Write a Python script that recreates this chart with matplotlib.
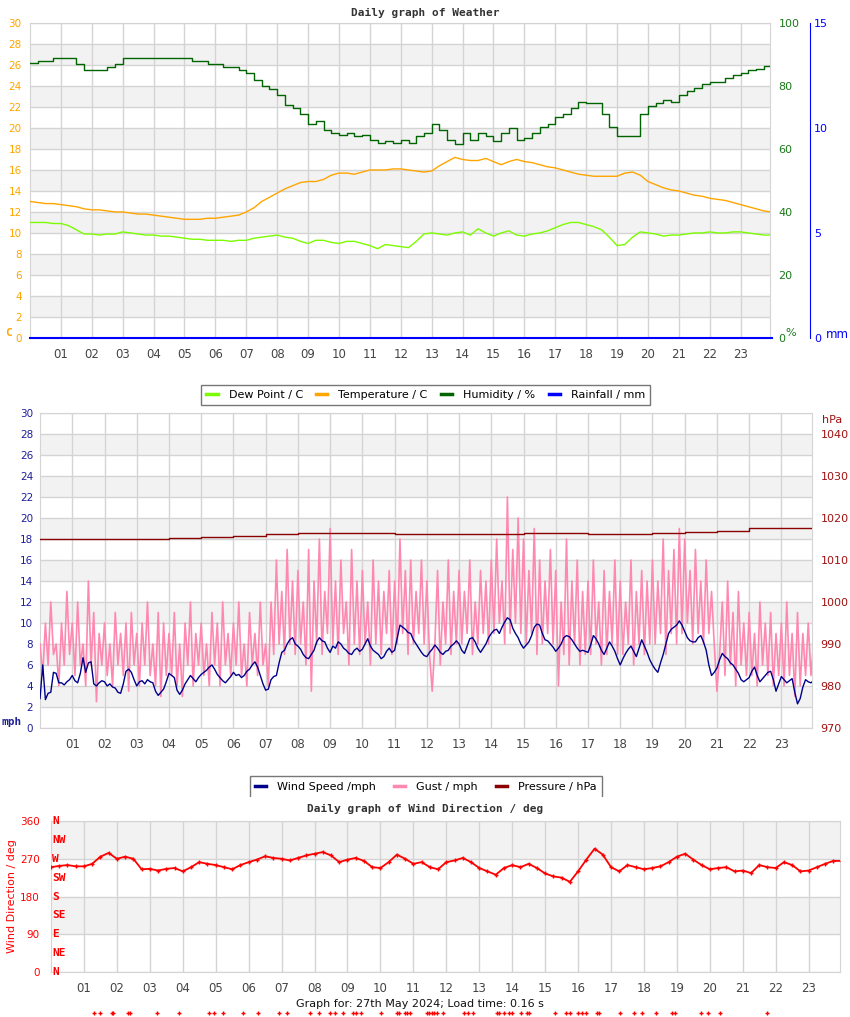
import numpy as np
import matplotlib
matplotlib.use("Agg")
import matplotlib.pyplot as plt
from matplotlib.lines import Line2D
from matplotlib.patches import Rectangle
from matplotlib.transforms import blended_transform_factory

# ---- data ----
hour_labels = ["%02d" % h for h in range(1, 24)]

# quarter-hour samples 00:00 .. 24:00
humidity = [87.3, 88, 88, 88.8,  88.8, 88.8, 87, 85,  85, 85, 86, 87,  88.8, 88.8, 88.8, 88.8,
            88.8, 88.8, 88.8, 88.8,  88.8, 88, 88, 87,  87, 86, 86, 85,  84, 82, 80, 79,
            77, 74, 73, 71,  68, 69, 66, 65,  64.5, 65, 64, 64.5,  63, 62, 62.5, 62,
            63, 62, 64, 65,  68, 66, 63, 61.5,  65, 63, 65, 64,  62.5, 65, 66.5, 63,
            63.5, 65, 67, 68,  70, 71, 73, 75,  74.5, 74.5, 71, 67,  64, 64, 64, 71,
            73.5, 74.5, 75.5, 75,  77, 78.5, 79.5, 80.5,  81.3, 81.3, 82.5, 83.5,  84, 85, 85.5, 86.2,
            86.2]
temperature = [13.0, 12.9, 12.8, 12.8,  12.7, 12.6, 12.5, 12.3,  12.2, 12.2, 12.1, 12.0,  12.0, 11.9, 11.8, 11.8,
               11.7, 11.6, 11.5, 11.4,  11.3, 11.3, 11.3, 11.4,  11.4, 11.5, 11.6, 11.7,  12.0, 12.4, 13.0, 13.4,
               13.8, 14.2, 14.5, 14.8,  14.9, 14.9, 15.1, 15.5,  15.7, 15.7, 15.6, 15.8,  16.0, 16.0, 16.0, 16.1,
               16.1, 16.0, 15.9, 15.8,  15.9, 16.4, 16.8, 17.2,  17.0, 16.9, 16.9, 17.1,  16.8, 16.5, 16.8, 17.0,
               16.8, 16.7, 16.5, 16.3,  16.2, 16.0, 15.8, 15.6,  15.5, 15.4, 15.4, 15.4,  15.4, 15.7, 15.8, 15.5,
               14.9, 14.6, 14.3, 14.1,  14.0, 13.8, 13.6, 13.5,  13.3, 13.2, 13.1, 12.9,  12.7, 12.5, 12.3, 12.1,
               12.0]
dew_point = [11.0, 11.0, 11.0, 10.9,  10.9, 10.7, 10.3, 9.9,  9.9, 9.8, 9.9, 9.9,  10.1, 10.0, 9.9, 9.8,
             9.8, 9.7, 9.7, 9.6,  9.5, 9.4, 9.4, 9.3,  9.3, 9.3, 9.2, 9.3,  9.3, 9.5, 9.6, 9.7,
             9.8, 9.6, 9.5, 9.2,  9.0, 9.3, 9.3, 9.1,  9.0, 9.2, 9.2, 9.0,  8.8, 8.5, 8.9, 8.8,
             8.7, 8.6, 9.2, 9.9,  10.0, 9.9, 9.8, 10.0,  10.1, 9.8, 10.4, 10.0,  9.7, 10.0, 10.2, 9.8,
             9.7, 9.9, 10.0, 10.2,  10.5, 10.8, 11.0, 11.0,  10.8, 10.6, 10.3, 9.6,  8.8, 8.9, 9.6, 10.1,
             10.0, 9.9, 9.7, 9.8,  9.8, 9.9, 10.0, 10.0,  10.1, 10.0, 10.0, 10.1,  10.1, 10.0, 9.9, 9.8,
             9.8]
rainfall = [0.0] * len(humidity)

wind_dir = [250, 253, 255, 252,  252, 258, 275, 284,  270, 275, 270, 245,  246, 242, 246, 248,
            240, 250, 262, 258,  255, 250, 245, 255,  262, 268, 276, 272,  270, 266, 272, 278,
            282, 286, 278, 262,  268, 272, 265, 250,  248, 262, 280, 270,  258, 262, 250, 245,
            262, 266, 272, 262,  248, 240, 232, 248,  255, 250, 258, 248,  235, 228, 225, 215,
            240, 268, 294, 280,  250, 240, 255, 250,  245, 248, 252, 262,  275, 282, 268, 255,
            245, 248, 250, 240,  242, 236, 255, 250,  248, 262, 255, 240,  242, 250, 258, 265,
            265]

# hourly pressure 00..24
pressure = [1015.0, 1015.0, 1015.0, 1014.9, 1015.3, 1015.4, 1015.6, 1016.3, 1016.5, 1016.5,
            1016.4, 1016.3, 1016.3, 1016.2, 1016.2, 1016.4, 1016.4, 1016.3, 1016.3, 1016.5,
            1016.6, 1017.0, 1017.6, 1017.7, 1017.7]

# 5-minute wind speed
wind_speed = [2.8, 6.0, 2.7, 3.3, 3.4, 5.3, 5.2, 4.3, 4.3, 4.1, 4.4, 4.6,
              5.0, 4.5, 4.3, 5.2, 6.7, 5.3, 6.2, 6.3, 4.2, 4.0, 4.3, 4.5,
              4.4, 4.0, 4.2, 3.9, 3.8, 3.4, 3.3, 4.2, 5.4, 5.6, 5.3, 4.6,
              4.0, 4.4, 4.5, 4.2, 4.6, 4.4, 4.3, 3.5, 3.1, 3.4, 3.7, 4.4,
              5.2, 5.0, 4.8, 3.6, 3.2, 3.6, 4.2, 4.6, 5.0, 4.7, 4.4, 4.8,
              5.1, 5.3, 5.5, 5.8, 6.0, 5.6, 5.1, 4.8, 4.5, 4.3, 4.6, 4.9,
              5.3, 5.0, 5.1, 4.8, 5.0, 5.4, 5.6, 6.0, 6.3, 5.8, 5.0, 4.2,
              3.6, 3.7, 4.6, 4.9, 5.0, 6.2, 7.2, 7.4, 8.0, 8.4, 8.6, 8.0,
              7.8, 7.5, 7.0, 6.7, 6.6, 7.0, 7.4, 8.2, 8.6, 8.3, 8.2, 7.6,
              7.2, 7.8, 7.6, 8.2, 8.0, 7.6, 7.4, 7.1, 7.0, 7.4, 7.6, 7.3,
              7.5, 8.0, 8.5, 7.8, 7.4, 7.2, 7.0, 6.6, 6.8, 7.3, 7.6, 7.2,
              7.4, 8.6, 9.8, 9.6, 9.4, 9.1, 9.0, 8.4, 8.0, 7.6, 7.2, 6.9,
              6.8, 7.2, 7.5, 7.9, 7.6, 7.2, 7.0, 7.3, 7.4, 7.8, 8.0, 8.3,
              8.0, 7.4, 7.1, 7.8, 8.5, 8.6, 8.2, 7.6, 7.2, 7.6, 8.0, 8.6,
              9.0, 9.3, 9.4, 9.0, 9.6, 10.1, 10.5, 10.3, 9.5, 9.0, 8.6, 8.0,
              7.6, 7.9, 8.2, 8.8, 9.6, 9.9, 9.8, 9.0, 8.4, 8.3, 8.0, 7.7,
              7.3, 7.6, 8.0, 8.6, 8.8, 8.7, 8.4, 8.0, 7.6, 7.3, 7.4, 7.3,
              7.2, 7.9, 8.8, 8.5, 8.0, 7.4, 7.0, 7.6, 8.2, 7.8, 7.3, 6.6,
              6.0, 6.6, 7.1, 7.5, 7.8, 7.3, 6.8, 7.6, 8.4, 7.8, 7.2, 6.5,
              6.0, 5.6, 5.3, 6.2, 7.0, 8.0, 9.0, 9.4, 9.6, 9.8, 10.2, 9.8,
              9.2, 8.6, 8.3, 8.2, 8.2, 8.6, 8.8, 8.2, 7.4, 6.0, 5.0, 5.3,
              5.7, 6.5, 7.1, 6.8, 6.6, 6.2, 6.0, 5.6, 5.2, 4.6, 4.4, 4.6,
              4.8, 5.4, 5.8, 5.0, 4.4, 4.7, 5.0, 5.3, 5.4, 4.6, 3.5, 4.2,
              4.9, 4.6, 4.3, 4.5, 4.7, 3.4, 2.3, 2.8, 3.9, 4.6, 4.4, 4.3,
              4.5]

# 5-minute gusts
gust = [8, 5, 10, 6, 12, 7, 8, 4, 10, 6, 13, 7,
        10, 5, 12, 6, 8, 4, 14, 6, 11, 2.5, 9, 6,
        10, 5, 8, 4, 11, 6, 9, 5, 10, 3.5, 11, 6,
        9, 4, 10, 6, 12, 5, 8, 4, 11, 3, 10, 5,
        9, 5, 11, 4, 8, 3, 10, 6, 12, 4, 9, 6,
        10, 5, 8, 4, 11, 6, 10, 4, 12, 6, 9, 5,
        10, 6, 12, 5, 8, 4, 11, 6, 9, 5, 12, 6,
        8, 4, 12, 7, 16, 8, 13, 7, 17, 8, 14, 7,
        15, 8, 12, 6, 17, 3.5, 14, 8, 18, 7, 13, 9,
        19, 8, 14, 7, 16, 9, 12, 6, 17, 8, 14, 7,
        15, 8, 12, 6, 16, 8, 14, 7, 13, 9, 15, 7,
        14, 8, 18, 9, 15, 7, 16, 8, 13, 9, 16, 8,
        14, 7, 3.5, 8, 15, 6, 12, 8, 16, 7, 13, 8,
        15, 8, 13, 9, 16, 7, 12, 8, 15, 9, 14, 8,
        16, 9, 18, 10, 14, 8, 22, 9, 17, 10, 20, 9,
        18, 8, 15, 9, 19, 7, 16, 8, 14, 9, 17, 8,
        15, 4, 12, 7, 18, 6, 14, 8, 16, 6, 13, 7,
        14, 7, 16, 8, 12, 6, 15, 7, 13, 8, 16, 7,
        14, 7, 12, 8, 16, 6, 13, 8, 15, 7, 14, 8,
        16, 8, 14, 9, 18, 7, 15, 9, 17, 8, 19, 9,
        18, 10, 15, 8, 17, 9, 14, 8, 16, 9, 13, 8,
        3.5, 7, 12, 5, 14, 6, 11, 4, 13, 6, 10, 5,
        11, 5, 9, 4, 12, 6, 10, 5, 11, 4, 9, 5,
        10, 4, 12, 5, 9, 3, 11, 4, 9, 5, 10, 5,
        8]

# stray wind-direction points drawn under the footer
stray_hours = [1.31, 1.49, 1.85, 1.88, 2.34, 2.40, 3.22, 3.88, 4.80, 4.95, 5.22, 5.83, 6.28, 6.92,
               7.16, 7.86, 8.13, 8.47, 8.62, 8.86, 9.17, 9.26, 9.41, 10.02, 10.50, 10.56, 10.74,
               10.80, 10.90, 11.41, 11.47, 11.56, 11.62, 11.71, 11.90, 12.53, 12.66, 12.81, 13.54,
               13.60, 13.75, 13.90, 13.99, 14.26, 14.45, 14.51, 15.30, 15.63, 15.75, 15.99, 16.12,
               16.24, 16.57, 16.63, 17.27, 17.69, 17.94, 18.36, 18.85, 18.94, 19.73, 19.94, 20.30,
               21.73]

t_q = np.arange(len(humidity)) * 0.25
t_h = np.arange(len(pressure)) * 1.0
t_ws = np.arange(len(wind_speed)) / 12.0
t_g = np.arange(len(gust)) / 12.0

# ---- styling ----
GRID = "#d4d4d4"
BAND = "#f2f2f2"
HOURC = "#444444"
XMAX = 23.95
MONO = "DejaVu Sans Mono"


def base_axes(ax, ymax, ystep, band_step):
    ax.set_xlim(0, XMAX)
    ax.set_ylim(0, ymax)
    for y0 in np.arange(band_step, ymax, 2 * band_step):
        ax.axhspan(y0, y0 + band_step, color=BAND, zorder=0, lw=0)
    ax.set_yticks(np.arange(0, ymax + 0.1, ystep))
    ax.set_xticks(range(1, 24))
    ax.set_xticklabels(hour_labels)
    ax.grid(True, color=GRID, lw=1, zorder=1)
    ax.set_axisbelow(True)
    ax.tick_params(axis="x", length=0, pad=7, labelsize=8.5, labelcolor=HOURC)
    ax.tick_params(axis="y", length=0, pad=5, labelsize=7.5)
    for s in ax.spines.values():
        s.set_color(GRID)


fig = plt.figure(figsize=(8.5, 10.17), dpi=100)

# ---- panel 1: weather ----
ax1 = fig.add_axes([0.0353, 0.6677, 0.8706, 0.3097])
base_axes(ax1, 30, 2, 2)
ax1.tick_params(axis="y", labelcolor="#ffa500", pad=6)
ax1.plot(t_q, temperature, color="#ffa500", lw=1, zorder=3)
ax1.plot(t_q, dew_point, color="#7cfc00", lw=1, zorder=3)

ax1h = ax1.twinx()
ax1h.set_ylim(0, 100)
ax1h.set_yticks([0, 20, 40, 60, 80, 100])
ax1h.tick_params(axis="y", length=0, pad=6, labelsize=8, labelcolor="#1a7a1a")
ax1h.plot(t_q, humidity, color="#006400", lw=1, drawstyle="steps-post", zorder=4)
for s in ax1h.spines.values():
    s.set_visible(False)

ax1r = ax1.twinx()
ax1r.set_ylim(0, 15)
ax1r.set_yticks([0, 5, 10, 15])
ax1r.spines["right"].set_position(("axes", 1.054))
for name, s in ax1r.spines.items():
    s.set_visible(name == "right")
ax1r.spines["right"].set_color("#0000ff")
ax1r.tick_params(axis="y", length=0, pad=3, labelsize=8, labelcolor="#0000ff")
ax1r.plot(t_q, rainfall, color="#0000ff", lw=1.5, clip_on=False, zorder=5)
ax1r.set_xlim(0, XMAX)

fig.text(0.5, 1 - 13 / 1017, "Daily graph of Weather", ha="center", va="center",
         family=MONO, weight="bold", size=8, color="#333333")
fig.text(5 / 850, 1 - 333 / 1017, "C", color="#ffa500", family=MONO, weight="bold",
         size=8, va="center")
fig.text(785 / 850, 1 - 333 / 1017, "%", color="#1a7a1a", size=8, va="center")
fig.text(826 / 850, 1 - 334 / 1017, "mm", color="#0000ff", size=8.5, va="center")

# second title, mostly hidden behind the first legend as in the original
fig.text(0.5, 1 - 401 / 1017, "Daily graph of Wind", ha="center", va="center",
         family=MONO, weight="bold", size=8, color="#333333", zorder=1)
h1 = [Line2D([], [], color="#7cfc00", lw=2.5), Line2D([], [], color="#ffa500", lw=2.5),
      Line2D([], [], color="#006400", lw=2.5), Line2D([], [], color="#0000ff", lw=2.5)]
fig.legend(h1, ["Dew Point / C", "Temperature / C", "Humidity / %", "Rainfall / mm"],
           loc="center", bbox_to_anchor=(0.501, 1 - 395 / 1017), ncol=4, fontsize=8,
           frameon=True, fancybox=False, edgecolor="#777777", framealpha=1,
           handlelength=1.0, columnspacing=1.2, handletextpad=1.0, borderpad=0.45)

# ---- panel 2: wind & pressure ----
ax2 = fig.add_axes([0.0471, 0.2842, 0.9082, 0.3097])
base_axes(ax2, 30, 2, 2)
ax2.tick_params(axis="y", labelcolor="#1e1e9a")
ax2.plot(t_g, gust, color="#ff88b0", lw=1.2, zorder=3)
ax2.plot(t_ws, wind_speed, color="#00008b", lw=1, zorder=4)

ax2p = ax2.twinx()
ax2p.set_ylim(970, 1045)
ax2p.set_yticks(range(970, 1041, 10))
ax2p.tick_params(axis="y", length=0, pad=6, labelsize=8, labelcolor="#a01010")
ax2p.plot(t_h, pressure, color="#8b0000", lw=1, drawstyle="steps-post", zorder=5)
ax2p.set_xlim(0, XMAX)
for s in ax2p.spines.values():
    s.set_visible(False)

fig.text(12 / 850, 1 - 722 / 1017, "mph", color="#1e1e9a", family=MONO, weight="bold",
         size=8, ha="center", va="center")
fig.text(832 / 850, 1 - 420 / 1017, "hPa", color="#a01010", size=8, ha="center", va="center")

h2 = [Line2D([], [], color="#00008b", lw=2.5), Line2D([], [], color="#ff88b0", lw=2.5),
      Line2D([], [], color="#8b0000", lw=2.5)]
fig.legend(h2, ["Wind Speed /mph", "Gust / mph", "Pressure / hPa"],
           loc="center", bbox_to_anchor=(0.501, 1 - 787 / 1017), ncol=3, fontsize=8,
           frameon=True, fancybox=False, edgecolor="#777777", framealpha=1,
           handlelength=1.0, columnspacing=1.6, handletextpad=1.0, borderpad=0.5)
# the legend's lower edge is cut off by the next chart
fig.patches.append(Rectangle((240 / 850, 1 - 803 / 1017), 380 / 850, 6 / 1017,
                             transform=fig.transFigure, facecolor="white",
                             edgecolor="none", zorder=10))

# ---- panel 3: wind direction ----
ax3 = fig.add_axes([0.06, 0.0442, 0.9282, 0.1485])
base_axes(ax3, 360, 90, 90)
ax3.tick_params(axis="y", labelcolor="#ff0000", pad=8)
ax3.plot(t_q, wind_dir, color="#ff0000", lw=1.3, marker="+", ms=3.5, mew=1, zorder=3)
ax3.set_ylabel("Wind Direction / deg", color="#ff0000", size=8, labelpad=2)

compass = ["N", "NE", "E", "SE", "S", "SW", "W", "NW", "N"]
for k, lab in enumerate(compass):
    ax3.text(0.03, k * 45, lab, color="#ff0000", family=MONO, weight="bold", size=8,
             ha="left", va="center", zorder=6, clip_on=False)

fig.text(0.5, 1 - 809 / 1017, "Daily graph of Wind Direction / deg", ha="center", va="center",
         family=MONO, weight="bold", size=8, color="#333333", zorder=11)

tr = blended_transform_factory(ax3.transData, fig.transFigure)
ax3.plot(stray_hours, [0.0035] * len(stray_hours), transform=tr, ls="none", marker="+",
         ms=3, mew=1, color="#ff0000", clip_on=False)

fig.text(420 / 850, 1 - 1004 / 1017, "Graph for: 27th May 2024; Load time: 0.16 s",
         ha="center", va="center", size=8, color="#111111")

fig.savefig("out.png", dpi=100)
